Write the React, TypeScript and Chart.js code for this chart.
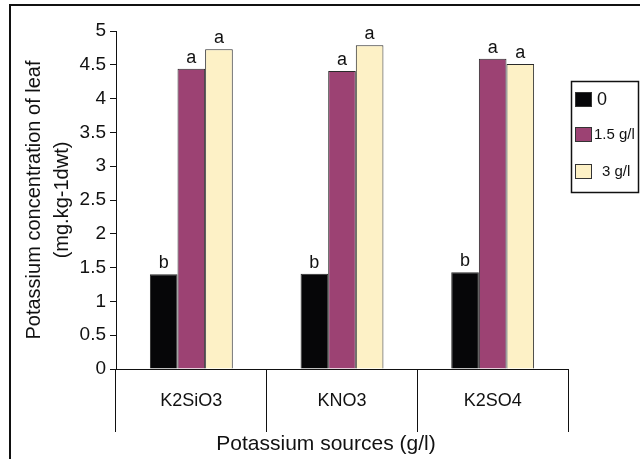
import React, { useEffect, useRef } from "react";
import { Chart, registerables } from "chart.js";

Chart.register(...registerables);

const categories = ["K2SiO3", "KNO3", "K2SO4"];
const seriesLabels = ["0", "1.5 g/l", "3 g/l"];
const values0 = [1.4, 1.41, 1.43];
const values15 = [4.44, 4.41, 4.59];
const values3 = [4.73, 4.79, 4.51];
const letters0 = ["b", "b", "b"];
const letters15 = ["a", "a", "a"];
const letters3 = ["a", "a", "a"];
const yMin = 0;
const yMax = 5;
const yStep = 0.5;
const yTitle = ["Potassium concentration of leaf", "(mg.kg-1dwt)"];
const xTitle = "Potassium sources (g/l)";

const colors = ["#060608", "#9c4273", "#fdf1c6"];
const letterSets = [letters0, letters15, letters3];
const FONT = '"Liberation Sans", Arial, Helvetica, sans-serif';

const extras = {
  id: "extras",
  afterDatasetsDraw(chart: any) {
    const ctx = chart.ctx;
    ctx.save();
    ctx.font = `18px ${FONT}`;
    ctx.fillStyle = "#111";
    ctx.textAlign = "center";
    ctx.textBaseline = "alphabetic";
    chart.data.datasets.forEach((_ds: any, i: number) => {
      const meta = chart.getDatasetMeta(i);
      meta.data.forEach((bar: any, j: number) => {
        ctx.fillText(letterSets[i][j], bar.x, bar.y - 6);
      });
    });
    ctx.restore();
  },
  afterDraw(chart: any) {
    const ctx = chart.ctx;
    ctx.save();
    // frame
    ctx.fillStyle = "#111";
    ctx.fillRect(9, 4, 631, 2);
    ctx.fillRect(9, 4, 2, 455);
    // x title
    ctx.font = `21px ${FONT}`;
    ctx.fillStyle = "#111";
    ctx.textAlign = "center";
    ctx.textBaseline = "alphabetic";
    ctx.fillText(xTitle, 326, 450);
    // legend
    ctx.strokeStyle = "#111";
    ctx.lineWidth = 1.5;
    ctx.strokeRect(571.5, 81.5, 67, 111);
    const itemY = [92, 127, 164];
    const textX = [597, 594, 602];
    ctx.textAlign = "left";
    ctx.textBaseline = "middle";
    chart.data.datasets.forEach((ds: any, i: number) => {
      ctx.fillStyle = ds.backgroundColor;
      ctx.fillRect(575, itemY[i], 17, 15);
      ctx.lineWidth = 1;
      ctx.strokeStyle = "#333";
      ctx.strokeRect(575.5, itemY[i] + 0.5, 16, 14);
      ctx.fillStyle = "#111";
      ctx.font = i === 0 ? `18px ${FONT}` : `15px ${FONT}`;
      ctx.fillText(ds.label, textX[i], itemY[i] + 8);
    });
    ctx.restore();
  },
};

export default function App() {
  const ref = useRef<HTMLCanvasElement>(null);
  useEffect(() => {
    if (!ref.current) return;
    const chart = new Chart(ref.current, {
      type: "bar",
      data: {
        labels: categories,
        datasets: [values0, values15, values3].map((v, i) => ({
          label: seriesLabels[i],
          data: v,
          backgroundColor: colors[i],
          borderColor: "#2a2a2a",
          borderWidth: 1,
          categoryPercentage: 0.55,
          barPercentage: 1,
        })),
      },
      options: {
        animation: false,
        responsive: false,
        devicePixelRatio: 1,
        layout: { padding: { left: 12, top: 31, right: 72, bottom: 0 } },
        plugins: {
          legend: { display: false },
          tooltip: { enabled: false },
        },
        scales: {
          x: {
            grid: {
              display: true,
              offset: true,
              drawOnChartArea: false,
              drawTicks: true,
              tickLength: 63,
              color: "#111",
              lineWidth: 1,
            },
            border: { display: true, color: "#111", width: 1 },
            ticks: {
              padding: -42,
              color: "#111",
              font: { family: FONT, size: 18 },
              maxRotation: 0,
            },
            afterFit: (scale: any) => {
              scale.height = 90;
            },
          },
          y: {
            min: yMin,
            max: yMax,
            grid: {
              display: true,
              drawOnChartArea: false,
              drawTicks: true,
              tickLength: 6,
              color: "#111",
            },
            border: { display: true, color: "#111", width: 1 },
            ticks: {
              stepSize: yStep,
              padding: 4,
              color: "#111",
              font: { family: FONT, size: 19 },
              callback: (v: any) => `${v}`,
            },
            title: {
              display: true,
              text: yTitle,
              color: "#111",
              font: { family: FONT, size: 20, lineHeight: 1.4 },
              padding: { top: 8, bottom: 0 },
            },
            afterFit: (scale: any) => {
              scale.width = 104;
            },
          },
        },
      },
      plugins: [extras],
    });
    return () => chart.destroy();
  }, []);
  return (
    <canvas
      ref={ref}
      width={640}
      height={459}
      style={{ position: "absolute", left: 0, top: 0, width: 640, height: 459 }}
    />
  );
}
